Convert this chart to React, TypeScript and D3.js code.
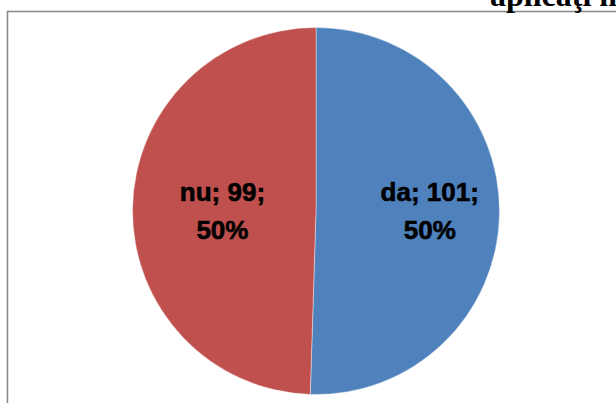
import React from 'react';
import * as d3 from 'd3';

// slice data
const categories = ['da', 'nu'];
const counts = [101, 99];
const percentLabels = ['50%', '50%'];
const colors = ['#4F81BD', '#C0504D'];

const width = 616;
const height = 403;

const App = () => {
  const cx = 316;
  const cy = 211;
  const radius = 183.5;
  // Excel's best-fit labels sit a bit off the centroid, different per slice
  const labelFactor = [0.62, 0.51];

  const pie = d3.pie<number>().sort(null).startAngle(0).endAngle(2 * Math.PI);
  const arcs = pie(counts);
  const arc = d3.arc<d3.PieArcDatum<number>>().innerRadius(0).outerRadius(radius);

  return (
    <svg
      width={width}
      height={height}
      style={{ position: 'absolute', left: 0, top: 0, background: '#fff' }}
    >
      {/* chart area border, runs off the right and bottom edge */}
      <rect x={7.5} y={11.5} width={width + 20} height={height + 20} fill="none" stroke="#878787" strokeWidth={1.5} />

      {/* title, cut off at the top of the picture like in the source */}
      <text
        x={490}
        y={6}
        fontFamily="'Liberation Serif', 'Times New Roman', serif"
        fontWeight="bold"
        fontSize={32}
        fill="#000"
      >
        aplicaţi m
      </text>

      <g transform={`translate(${cx},${cy})`}>
        {arcs.map((a, i) => (
          <path key={categories[i]} d={arc(a) || ''} fill={colors[i]} stroke="#fff" strokeOpacity={0.5} strokeWidth={0.8} />
        ))}
        {arcs.map((a, i) => {
          const mid = (a.startAngle + a.endAngle) / 2;
          const x = Math.sin(mid) * radius * labelFactor[i];
          // labels are vertically centred on the pie's middle
          const y = 0;
          return (
            <text
              key={'l' + i}
              x={x}
              y={y}
              textAnchor="middle"
              fontFamily="'Liberation Sans', Arial, sans-serif"
              fontWeight="bold"
              fontSize={26}
              fill="#000"
              stroke="#000"
              strokeWidth={0.6}
            >
              <tspan x={x} dy={-10}>{`${categories[i]}; ${counts[i]};`}</tspan>
              <tspan x={x} dy={38}>{percentLabels[i]}</tspan>
            </text>
          );
        })}
      </g>
    </svg>
  );
};

export default App;
